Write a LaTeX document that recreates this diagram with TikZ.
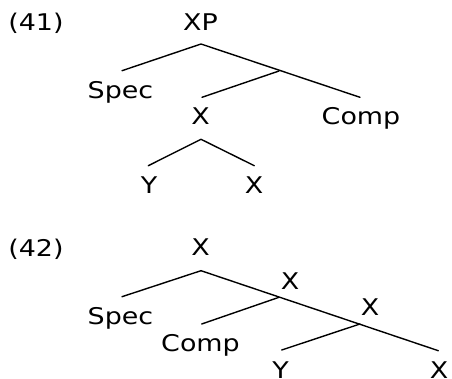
\documentclass[tikz,border=0pt]{standalone}
\usepackage{fontspec}
\setmainfont{DejaVu Sans}[FakeStretch=1.17]
\begin{document}
\begin{tikzpicture}[x=1pt,y=-1pt,
  lbl/.style={anchor=base,inner sep=0pt,font=\fontsize{23}{26}\selectfont},
  edge/.style={line width=1.4pt,line cap=round}]
\useasboundingbox (0,0) rectangle (452,379);
% ---- (41)
\node[lbl] (n41) at (36,31) {(41)};
\node[lbl] (xp) at (200.5,30.5) {XP};
\node[lbl] (spec1) at (120.5,99) {Spec};
\node[lbl] (x1) at (200.5,125) {X};
\node[lbl] (comp1) at (361,125) {Comp};
\node[lbl] (y1) at (149,194) {Y};
\node[lbl] (x1b) at (254,194) {X};
\coordinate (a1) at (201,44);
\coordinate (s1) at (122,70.7);
\coordinate (b1) at (279,71);
\coordinate (xe1) at (202,97.3);
\coordinate (ce1) at (360,97.3);
\coordinate (a2) at (201,139.3);
\coordinate (ye1) at (148.3,165.7);
\coordinate (xe2) at (254.3,165.7);
\draw[edge] (s1) -- (a1) -- (ce1);
\draw[edge] (xe1) -- (b1);
\draw[edge] (ye1) -- (a2) -- (xe2);
% ---- (42)
\node[lbl] (n42) at (36,256.5) {(42)};
\node[lbl] (xt) at (200.5,255.7) {X};
\node[lbl] (x2) at (290,289) {X};
\node[lbl] (x3) at (370,315.7) {X};
\node[lbl] (spec2) at (120.5,324.3) {Spec};
\node[lbl] (comp2) at (200.5,351) {Comp};
\node[lbl] (y2) at (280.5,378) {Y};
\node[lbl] (x4) at (439,378) {X};
\coordinate (a3) at (201,270.7);
\coordinate (s2) at (122,296.7);
\coordinate (b2) at (279,297.3);
\coordinate (ce2) at (201.7,324);
\coordinate (b3) at (360,324);
\coordinate (ye2) at (281.7,350);
\coordinate (xe4) at (438.3,350.7);
\draw[edge] (s2) -- (a3) -- (xe4);
\draw[edge] (ce2) -- (b2);
\draw[edge] (ye2) -- (b3);
\end{tikzpicture}
\end{document}
